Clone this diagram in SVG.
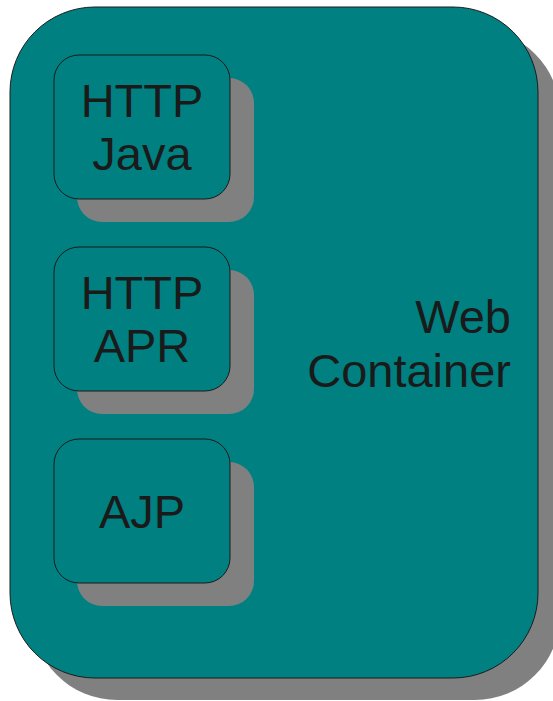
<svg xmlns="http://www.w3.org/2000/svg" width="553" height="701" viewBox="0 0 553 701">
  <style>
    .shadow { fill: #808080; }
    .box { fill: #008080; stroke: #1a1a1a; stroke-width: 1; }
    .label { font-family: "Liberation Sans", Arial, sans-serif; font-size: 47px; fill: #1a1a1a; }
    .mid { text-anchor: middle; }
    .end { text-anchor: end; }
  </style>
  <rect width="553" height="701" fill="#ffffff"/>

  <g id="web-container">
    <rect class="shadow" x="32" y="29" width="528" height="671" rx="85" ry="85"/>
    <rect class="box" x="10" y="7" width="528" height="671" rx="85" ry="85"/>
    <text class="label end" x="511" y="333">Web</text>
    <text class="label end" x="511" y="387">Container</text>
  </g>

  <g id="http-java">
    <rect class="shadow" x="77" y="78" width="177" height="144" rx="25" ry="25"/>
    <rect class="box" x="54" y="55" width="176" height="144" rx="25" ry="25"/>
    <text class="label mid" x="142" y="117">HTTP</text>
    <text class="label mid" x="142" y="170">Java</text>
  </g>

  <g id="http-apr">
    <rect class="shadow" x="77" y="270" width="177" height="144" rx="25" ry="25"/>
    <rect class="box" x="54" y="247" width="176" height="144" rx="25" ry="25"/>
    <text class="label mid" x="142" y="309">HTTP</text>
    <text class="label mid" x="142" y="362">APR</text>
  </g>

  <g id="ajp">
    <rect class="shadow" x="77" y="462" width="177" height="144" rx="25" ry="25"/>
    <rect class="box" x="54" y="439" width="176" height="144" rx="25" ry="25"/>
    <text class="label mid" x="142" y="528">AJP</text>
  </g>

  <g id="connectors"/>
</svg>
